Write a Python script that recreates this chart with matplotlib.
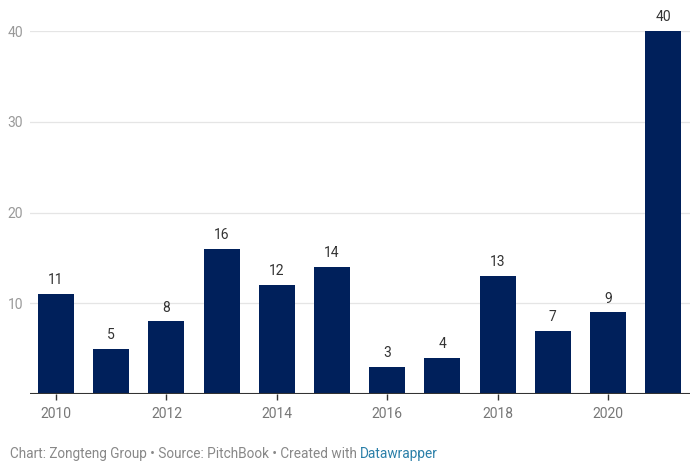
import matplotlib.pyplot as plt
import numpy as np

plt.rcParams['font.family'] = ['Roboto', 'DejaVu Sans']

years = [2010, 2011, 2012, 2013, 2014, 2015, 2016, 2017, 2018, 2019, 2020, 2021]
deals = [11, 5, 8, 16, 12, 14, 3, 4, 13, 7, 9, 40]
yticks = [10, 20, 30, 40]
xticks = [2010, 2012, 2014, 2016, 2018, 2020]

fig = plt.figure(figsize=(7, 4.73), dpi=100)
ax = fig.add_axes([0.043, 0.167, 0.943, 0.767])

bars = ax.bar(years, deals, width=0.65, color='#00205b', zorder=3)
for x, v in zip(years, deals):
    ax.text(x, v + 0.75, str(v), ha='center', va='bottom', fontsize=10, color='#333333', clip_on=False)

ax.set_xlim(2010 - 0.47, 2021 + 0.49)
ax.set_ylim(0, 40)

# gridlines
for t in yticks:
    ax.axhline(t, color='#e5e5e5', lw=0.9, zorder=1)
ax.axhline(0, color='#333333', lw=1.5, zorder=4)

for s in ax.spines.values():
    s.set_visible(False)
ax.set_yticks(yticks)
ax.set_yticklabels([str(t) for t in yticks])
ax.tick_params(axis='y', length=0, pad=5, labelsize=10, labelcolor='#999999')
ax.set_xticks(xticks)
ax.set_xticklabels([str(t) for t in xticks])
ax.tick_params(axis='x', length=4, width=1, color='#333333', pad=5, labelsize=10, labelcolor='#777777')

foot = 'Chart: Zongteng Group \u2022 Source: PitchBook \u2022 Created with '
t = fig.text(0.014, 0.04, foot, fontsize=9.8, color='#888888', va='center')
fig.canvas.draw()
bb = t.get_window_extent()
fig.text(bb.x1 / fig.bbox.width, 0.04, 'Datawrapper', fontsize=9.8, color='#2a7fa8', va='center')

fig.savefig('out.png', dpi=100)
